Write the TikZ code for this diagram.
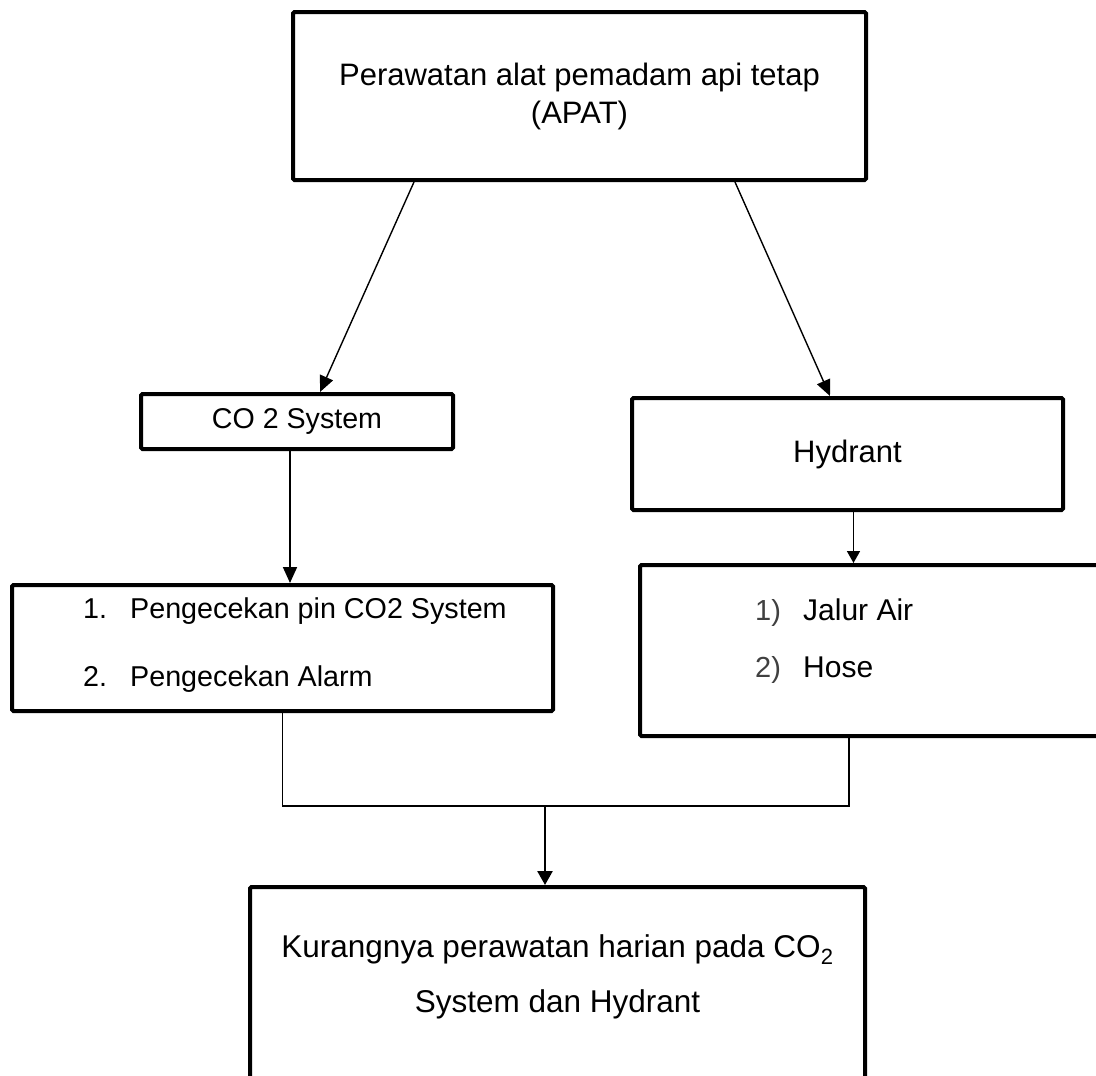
\documentclass[tikz,border=0pt]{standalone}
\usepackage{fontspec}
\setmainfont{Liberation Sans}
\usetikzlibrary{arrows.meta, calc}

\newcommand{\nomor}[1]{\makebox[48pt][l]{\color{black!75}\fontsize{29}{36}\selectfont #1}}

\begin{document}
\begin{tikzpicture}[
        x=1pt, y=-1pt,
        box/.style   = {draw, rectangle, line width=4pt, rounded corners=1.5pt, align=center, inner sep=0pt},
        list/.style  = {inner sep=0pt, anchor=west},
        arrow/.style = {-{Triangle[length=16pt, width=14pt]}, line width=1.4pt},
        link/.style  = {line width=1.3pt},
    ]
        \useasboundingbox (0,0) rectangle (1096,1076);
        \clip (0,0) rectangle (1096,1076);

        \node[box, minimum width=573pt, minimum height=168pt, font=\fontsize{31}{38}\selectfont] (apat) at (579.5,96) {Perawatan alat pemadam api tetap\\(APAT)};

        \node[box, minimum width=312pt, minimum height=55pt, font=\fontsize{28.6}{34}\selectfont] (co2) at (297,421.5) {CO 2 System};
        \node[box, minimum width=431pt, minimum height=112pt, font=\fontsize{31}{37}\selectfont] (hyd) at (847.5,454) {Hydrant};

        % daftar pengecekan
        \node[box, minimum width=541pt, minimum height=126pt] (cek) at (282.5,648) {};
        \node[list, font=\fontsize{28.7}{34}\selectfont] (cektxt) at (83,646) {\begin{tabular}{@{}p{47pt}@{}l@{}}1.&Pengecekan pin CO2 System\\[34pt]2.&Pengecekan Alarm\end{tabular}};

        \node[box, minimum width=480pt, minimum height=171pt] (air) at (880,650.5) {};
        \node[list, font=\fontsize{30}{36}\selectfont] (airtxt) at (755,641.5) {\begin{tabular}{@{}l@{}}\nomor{1)}Jalur Air\\[21pt]\nomor{2)}Hose\end{tabular}};

        % hasil akhir
        \node[box, minimum width=615pt, minimum height=260pt, anchor=north] (kurang) at (557.5,885) {};
        \node[align=center, inner sep=0pt, font=\fontsize{31.5}{55}\selectfont] (kurangtxt) at ($(kurang.north)+(0,92)$) {Kurangnya perawatan harian pada CO\textsubscript{2}\\System dan Hydrant};

        \draw[arrow] ([xshift=-165.5pt]apat.south) -- ([xshift=23pt]co2.north);
        \draw[arrow] ([xshift=155.5pt]apat.south) -- ([xshift=-17.5pt]hyd.north);
        \draw[arrow, line width=1.8pt] ([xshift=-7pt]co2.south) -- ([xshift=-7pt]co2.south |- cek.north);
        \draw[arrow, line width=1.6pt, -{Triangle[length=12pt, width=13pt]}] ([xshift=6pt]hyd.south) -- ([xshift=6pt]hyd.south |- air.north);

        \coordinate (merge) at ($(cek.south)+(0,93)$);
        \draw[link] (cek.south) -- (merge) -| ([xshift=-31pt]air.south);
        \draw[arrow, line width=2.6pt, -{Triangle[length=14pt, width=15pt]}] ([xshift=-12.5pt]kurang.north |- merge) -- ([xshift=-12.5pt]kurang.north);
    \end{tikzpicture}
\end{document}
